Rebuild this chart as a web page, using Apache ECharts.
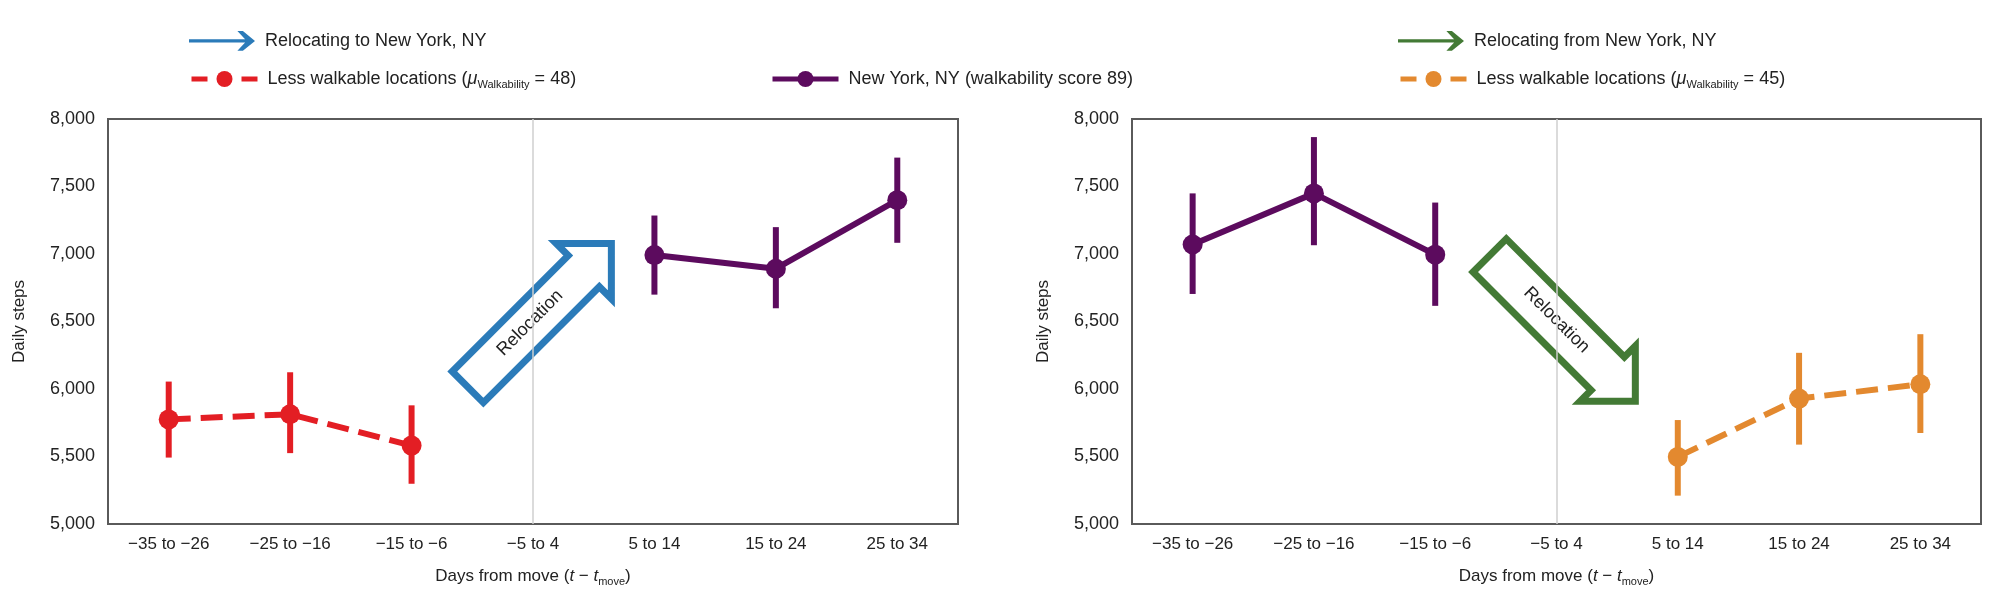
<!DOCTYPE html>
<html>
<head>
<meta charset="utf-8">
<script src="https://cdn.jsdelivr.net/npm/echarts@6/dist/echarts.min.js"></script>
<style>
  html, body { margin: 0; padding: 0; background: #fff; }
  #main { width: 2000px; height: 613px; }
</style>
</head>
<body>
<div id="main"></div>
<script>
// categories: days from move
var days = ['\u221235 to \u221226', '\u221225 to \u221216', '\u221215 to \u22126', '\u22125 to 4', '5 to 14', '15 to 24', '25 to 34'];
var yTicks = [5000, 8000, 500];

// relocating to New York (left panel)
var toLessSteps = [5775, 5813, 5581, null, null, null, null];
var toLessLow   = [5492, 5525, 5298, null, null, null, null];
var toLessHigh  = [6055, 6124, 5879, null, null, null, null];
var toNYSteps   = [null, null, null, null, 6992, 6891, 7399];
var toNYLow     = [null, null, null, null, 6699, 6598, 7083];
var toNYHigh    = [null, null, null, null, 7285, 7199, 7714];

// relocating from New York (right panel)
var fromNYSteps   = [7070, 7449, 6995, null, null, null, null];
var fromNYLow     = [6704, 7065, 6616, null, null, null, null];
var fromNYHigh    = [7449, 7866, 7381, null, null, null, null];
var fromLessSteps = [null, null, null, null, 5497, 5929, 6035];
var fromLessLow   = [null, null, null, null, 5210, 5588, 5674];
var fromLessHigh  = [null, null, null, null, 5770, 6268, 6406];

var nameToNY = 'Relocating to New York, NY';
var nameFromNY = 'Relocating from New York, NY';
var nameLess48 = 'Less walkable locations 48';
var nameLess45 = 'Less walkable locations 45';
var nameNY = 'New York, NY (walkability score 89)';

var BLUE = '#2b7bb9', RED = '#e31e24', PURPLE = '#5c0b5e', GREEN = '#437a35', ORANGE = '#e3892f';
var TXT = '#222';

var chart = echarts.init(document.getElementById('main'));

function errData(lo, hi) {
  var out = [];
  for (var i = 0; i < lo.length; i++) {
    if (lo[i] != null) out.push([i, lo[i], hi[i]]);
  }
  return out;
}

function renderErr(params, api) {
  var x = api.value(0);
  var a = api.coord([x, api.value(1)]);
  var b = api.coord([x, api.value(2)]);
  return {
    type: 'line',
    shape: { x1: a[0], y1: a[1], x2: b[0], y2: b[1] },
    style: { stroke: api.visual('color'), lineWidth: 6 }
  };
}

// big outlined arrow, anchored on a data point, shape in pixels
function arrowRenderer(dir, off, len, shaftHalf, head, textOff, textRot) {
  return function (params, api) {
    var p = api.coord([api.value(0), api.value(1)]);
    var cx = p[0] + off[0], cy = p[1] + off[1];
    var dx = dir[0], dy = dir[1];
    var nx = -dy, ny = dx;
    var tx = cx - dx * len / 2, ty = cy - dy * len / 2;
    var px = cx + dx * len / 2, py = cy + dy * len / 2;
    var bx = px - dx * head, by = py - dy * head;
    var pts = [
      [tx + nx * shaftHalf, ty + ny * shaftHalf],
      [bx + nx * shaftHalf, by + ny * shaftHalf],
      [bx + nx * head, by + ny * head],
      [px, py],
      [bx - nx * head, by - ny * head],
      [bx - nx * shaftHalf, by - ny * shaftHalf],
      [tx - nx * shaftHalf, ty - ny * shaftHalf]
    ];
    return {
      type: 'group',
      children: [{
        type: 'polygon',
        shape: { points: pts },
        style: { fill: 'none', stroke: api.visual('color'), lineWidth: 7, lineJoin: 'miter' }
      }, {
        type: 'text',
        x: p[0] + textOff[0],
        y: p[1] + textOff[1],
        rotation: textRot,
        style: {
          text: 'Relocation', fill: TXT, fontSize: 18,
          fontFamily: 'Liberation Sans, Arial, sans-serif',
          align: 'center', verticalAlign: 'middle'
        }
      }]
    };
  };
}

var s2 = Math.SQRT1_2;
var arrowIcon = 'path://M0,8.5 L51,8.5 L44,1 L49,1 L60,10 L49,19 L44,19 L51,11.5 L0,11.5 Z';

var legendRich = {
  n: { fontSize: 18, color: TXT },
  i: { fontSize: 18, color: TXT, fontStyle: 'italic' },
  s: { fontSize: 11, color: TXT, padding: [12, 0, 0, 0] }
};
function legendFmt(name) {
  if (name === nameLess48) return '{n|Less walkable locations (}{i|\u03bc}{s|Walkability}{n| = 48)}';
  if (name === nameLess45) return '{n|Less walkable locations (}{i|\u03bc}{s|Walkability}{n| = 45)}';
  return '{n|' + name + '}';
}
function mkLegend(left, cy, item, dashed) {
  return {
    left: left, top: cy - 12, itemWidth: 66, itemHeight: 20, itemGap: 0,
    selectedMode: false, data: [item], formatter: legendFmt,
    lineStyle: { width: 5, type: dashed ? [16, 34] : 'solid' },
    textStyle: { fontSize: 18, color: TXT, fontFamily: 'Liberation Sans, Arial, sans-serif',
      padding: [0, 0, 0, 5], rich: legendRich }
  };
}

function xAxisFor(gi) {
  return {
    type: 'category', gridIndex: gi, data: days, boundaryGap: true,
    axisLine: { show: false }, axisTick: { show: false }, splitLine: { show: false },
    axisLabel: { fontSize: 17, color: TXT, margin: 12 },
    name: '{n|Days from move (}{i|t}{n| \u2212 }{i|t}{s|move}{n|)}',
    nameLocation: 'middle', nameGap: 42,
    nameTextStyle: {
      rich: {
        n: { fontSize: 17, color: TXT },
        i: { fontSize: 17, color: TXT, fontStyle: 'italic' },
        s: { fontSize: 11, color: TXT, padding: [10, 0, 0, 0] }
      }
    }
  };
}
function yAxisFor(gi) {
  return {
    type: 'value', gridIndex: gi, min: yTicks[0], max: yTicks[1], interval: yTicks[2],
    axisLine: { show: false }, axisTick: { show: false }, splitLine: { show: false },
    axisLabel: { fontSize: 18, color: TXT, margin: 13, formatter: function (v) { return v.toLocaleString('en-US'); } },
    name: 'Daily steps', nameLocation: 'middle', nameGap: 80,
    nameTextStyle: { fontSize: 17, color: TXT }
  };
}

function lineSeries(name, data, color, dashed, gi) {
  return {
    type: 'line', name: name, data: data, xAxisIndex: gi, yAxisIndex: gi,
    symbol: 'circle', symbolSize: 20, connectNulls: false,
    lineStyle: { color: color, width: 6, type: dashed ? [22, 10] : 'solid' },
    itemStyle: { color: color }, z: 3
  };
}
function errSeries(lo, hi, color, gi) {
  return {
    type: 'custom', name: 'err', xAxisIndex: gi, yAxisIndex: gi,
    data: errData(lo, hi), encode: { x: 0, y: [1, 2] },
    itemStyle: { color: color }, renderItem: renderErr, z: 2
  };
}
var moveLine = {
  silent: true, symbol: 'none', label: { show: false },
  lineStyle: { color: '#cfcfcf', width: 1.5, type: 'solid' },
  data: [{ xAxis: days[3] }]
};

var option = {
  backgroundColor: '#fff',
  textStyle: { fontFamily: 'Liberation Sans, Arial, sans-serif' },
  animation: false,
  legend: [
    mkLegend(184, 38, { name: nameToNY, icon: arrowIcon }, false),
    mkLegend(184, 77, nameLess48, true),
    mkLegend(765, 77, nameNY, false),
    mkLegend(1393, 38, { name: nameFromNY, icon: arrowIcon }, false),
    mkLegend(1393, 77, nameLess45, true)
  ],
  grid: [
    { left: 108, right: 1042, top: 119, bottom: 89, show: true, borderColor: '#5a5a5a', borderWidth: 2 },
    { left: 1132, right: 19, top: 119, bottom: 89, show: true, borderColor: '#5a5a5a', borderWidth: 2 }
  ],
  xAxis: [xAxisFor(0), xAxisFor(1)],
  yAxis: [yAxisFor(0), yAxisFor(1)],
  series: [
    {
      type: 'custom', name: nameToNY, xAxisIndex: 0, yAxisIndex: 0,
      data: [[3, 6500]], itemStyle: { color: BLUE }, z: 1,
      renderItem: arrowRenderer([s2, -s2], [6.6, -6.2], 203, 22, 39, [-3, 1.5], Math.PI / 4),
      markLine: moveLine
    },
    errSeries(toLessLow, toLessHigh, RED, 0),
    errSeries(toNYLow, toNYHigh, PURPLE, 0),
    lineSeries(nameLess48, toLessSteps, RED, true, 0),
    lineSeries(nameNY, toNYSteps, PURPLE, false, 0),

    {
      type: 'custom', name: nameFromNY, xAxisIndex: 1, yAxisIndex: 1,
      data: [[3, 6500]], itemStyle: { color: GREEN }, z: 1,
      renderItem: arrowRenderer([s2, s2], [6, 6.8], 206, 23.5, 39, [0, -1.5], -Math.PI / 4),
      markLine: moveLine
    },
    errSeries(fromNYLow, fromNYHigh, PURPLE, 1),
    errSeries(fromLessLow, fromLessHigh, ORANGE, 1),
    lineSeries(nameNY, fromNYSteps, PURPLE, false, 1),
    lineSeries(nameLess45, fromLessSteps, ORANGE, true, 1)
  ]
};

chart.setOption(option);
</script>
</body>
</html>
